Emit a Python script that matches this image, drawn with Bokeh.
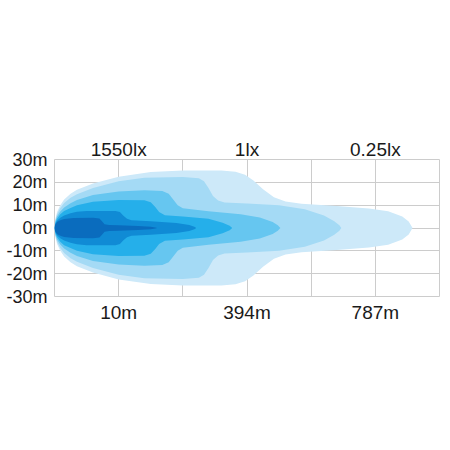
from bokeh.plotting import figure
from bokeh.models import Range1d, FixedTicker, LinearAxis
from bokeh.embed import file_html
from bokeh.resources import INLINE

# ---- data ----
y_ticks = [-30, -20, -10, 0, 10, 20, 30]
y_tick_labels = ["-30m", "-20m", "-10m", "0m", "10m", "20m", "30m"]
x_grid = [1, 2, 3, 4, 5]
x_tick_pos = [1, 3, 5]
distance_labels = ["10m", "394m", "787m"]
lux_labels = ["1550lx", "1lx", "0.25lx"]

# beam contours: distance (grid units) vs half-width (m), outermost first
l1_x = [0, 0.01, 0.04, 0.09, 0.15, 0.25, 0.35, 0.6, 1.0, 1.5, 2.0, 2.6, 2.82, 2.97, 3.1, 3.25, 3.42, 3.6, 3.85, 4.4, 4.9, 5.2, 5.42, 5.52, 5.58]
l1_y = [0, 3.5, 7, 10, 12.5, 15, 16.8, 19.5, 22.5, 24.5, 25.2, 25.2, 24.6, 23.3, 20.8, 17, 13.5, 11.6, 10.6, 9.6, 8.5, 7.3, 5, 2.8, 0]
l2_x = [0, 0.01, 0.04, 0.09, 0.15, 0.25, 0.35, 0.6, 1.0, 1.4, 2.0, 2.25, 2.33, 2.4, 2.47, 2.55, 2.65, 3.0, 3.5, 3.9, 4.2, 4.36, 4.44, 4.47]
l2_y = [0, 3, 6, 8.8, 11, 13.2, 14.8, 17.5, 20.5, 22, 22.3, 21.8, 20.5, 17.5, 14, 12, 11.2, 10.7, 10, 8.2, 5.5, 3, 1.2, 0]
l3_x = [0, 0.01, 0.04, 0.09, 0.15, 0.25, 0.35, 0.6, 1.0, 1.4, 1.68, 1.78, 1.85, 1.92, 2.0, 2.4, 2.9, 3.2, 3.4, 3.48, 3.52]
l3_y = [0, 2.5, 5, 7.2, 9, 10.8, 12.3, 14.5, 16, 16.5, 16.2, 15, 12.5, 10, 8.7, 7.3, 6, 4.6, 2.6, 1.2, 0]
l4_x = [0, 0.01, 0.04, 0.09, 0.15, 0.25, 0.35, 0.6, 1.0, 1.4, 1.5, 1.57, 1.63, 1.72, 2.0, 2.4, 2.62, 2.73, 2.77]
l4_y = [0, 2, 4, 6, 7.5, 8.8, 10, 11.5, 12.3, 12.2, 11.3, 9.2, 7, 5.6, 5, 4, 2.3, 1, 0]
l5_x = [0, 0.01, 0.04, 0.09, 0.15, 0.25, 0.35, 0.5, 0.95, 1.02, 1.07, 1.13, 1.2, 1.5, 1.9, 2.1, 2.18, 2.21]
l5_y = [0, 1.5, 3.2, 4.5, 5.5, 6.5, 7.1, 7.5, 7.5, 7, 5.5, 4, 3.4, 3, 2.2, 1.3, 0.6, 0]
l6_x = [0, 0.01, 0.04, 0.09, 0.15, 0.3, 0.6, 0.7, 0.74, 0.78, 0.85, 1.0, 1.3, 1.5, 1.57, 1.6]
l6_y = [0, 1.3, 2.6, 3.4, 3.9, 4.4, 4.5, 4.2, 3.0, 1.6, 1.3, 1.2, 0.9, 0.5, 0.2, 0]
layer_colors = ["#cde9f9", "#a4daf5", "#66c6f0", "#25afea", "#108bd5", "#0a6cbe"]

layers = [(l1_x, l1_y), (l2_x, l2_y), (l3_x, l3_y), (l4_x, l4_y), (l5_x, l5_y), (l6_x, l6_y)]

FONT = "Liberation Sans"
TEXT = "#1a1a1a"
GRID = "#cccccc"

p = figure(width=441, height=441, frame_width=385, frame_height=137,
           x_range=Range1d(0, 6), y_range=Range1d(-30, 30),
           output_backend="svg", toolbar_location=None, x_axis_location="below",
           min_border_left=54, min_border_right=2, min_border_top=159, min_border_bottom=145)
p.background_fill_color = "white"
p.border_fill_color = "white"
p.outline_line_color = GRID
p.outline_line_width = 1

for (xs, ys), c in zip(layers, layer_colors):
    px = list(xs) + list(reversed(xs))
    py = list(ys) + [-v for v in reversed(ys)]
    p.patch(px, py, fill_color=c, line_color=None)

# grids
p.xgrid.ticker = FixedTicker(ticks=x_grid)
p.ygrid.ticker = FixedTicker(ticks=y_ticks)
p.xgrid.grid_line_color = GRID
p.ygrid.grid_line_color = GRID
p.xgrid.grid_line_width = 1
p.ygrid.grid_line_width = 1

def style_axis(ax, size, standoff):
    ax.axis_line_color = None
    ax.major_tick_line_color = None
    ax.minor_tick_line_color = None
    ax.major_tick_out = 0
    ax.major_tick_in = 0
    ax.minor_tick_out = 0
    ax.major_label_standoff = standoff
    ax.major_label_text_font = FONT
    ax.major_label_text_font_size = size
    ax.major_label_text_color = TEXT

# bottom axis
xa = p.xaxis[0]
xa.ticker = FixedTicker(ticks=x_tick_pos)
xa.major_label_overrides = {t: l for t, l in zip(x_tick_pos, distance_labels)}
style_axis(xa, "19px", 5)

# top axis
ta = LinearAxis(ticker=FixedTicker(ticks=x_tick_pos))
ta.major_label_overrides = {t: l for t, l in zip(x_tick_pos, lux_labels)}
style_axis(ta, "19px", 0)
p.add_layout(ta, "above")

# left axis
ya = p.yaxis[0]
ya.ticker = FixedTicker(ticks=y_ticks)
ya.major_label_overrides = {t: l for t, l in zip(y_ticks, y_tick_labels)}
style_axis(ya, "18px", 7)

open("out.html", "w").write(file_html(p, INLINE))
